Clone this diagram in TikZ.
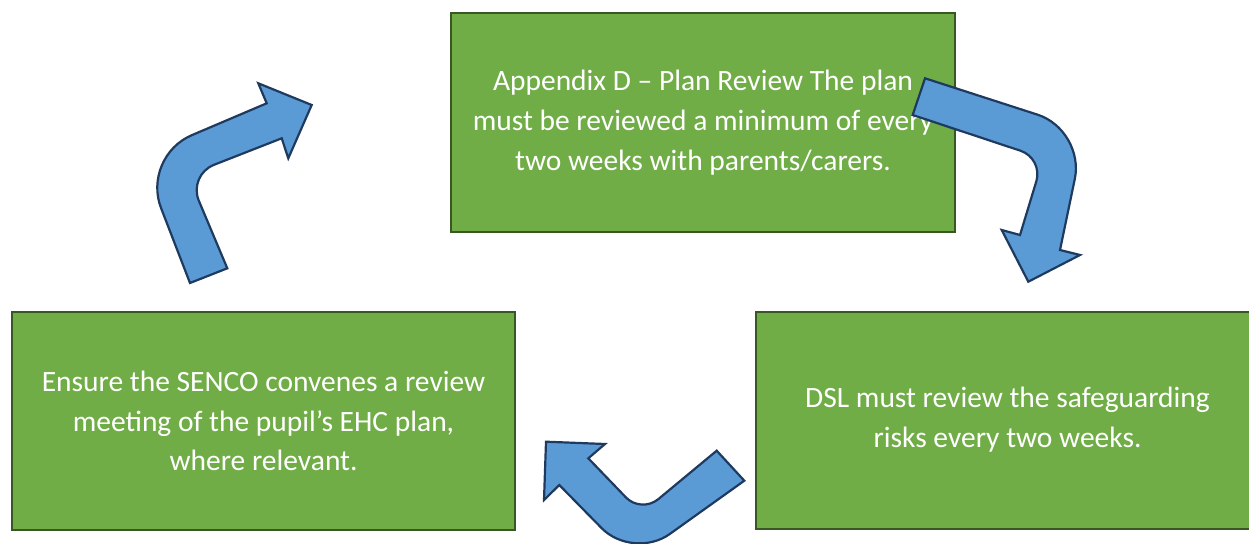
\documentclass[tikz,border=0pt]{standalone}
\usepackage{fontspec}
\setmainfont{Carlito}
\definecolor{boxgreen}{HTML}{70AD47}
\definecolor{boxedge}{HTML}{385723}
\definecolor{arrowblue}{HTML}{5B9BD5}
\definecolor{arrowedge}{HTML}{1F3A5F}
\begin{document}
\begin{tikzpicture}[x=1pt,y=-1pt,
  stepbox/.style={draw=boxedge,line width=2pt,fill=boxgreen,text=white,align=center,
    font=\fontsize{29.5}{39.8}\selectfont,inner sep=0pt},
  bentarrow/.style={draw=arrowedge,line width=2.2pt,fill=arrowblue,line join=miter}]
\useasboundingbox (0,0) rectangle (1249,543);
\node[stepbox,minimum width=504pt,minimum height=219pt] (top) at (703,122.5)
  {Appendix D – Plan Review The plan\\must be reviewed a minimum of every\\two weeks with parents/carers.};
\node[stepbox,minimum width=503pt,minimum height=218pt] (left) at (263.5,421)
  {Ensure the SENCO convenes a review\\meeting of the pupil’s EHC plan,\\where relevant.};
\node[stepbox,minimum width=503pt,minimum height=217pt] (right) at (1007.5,420)
  {DSL must review the safeguarding\\risks every two weeks.};
% arrow top-left (up-right)
\draw[bentarrow] (190,283) [rounded corners=55pt] -- (141.2,156.7) [sharp corners] -- (266.7,103.3)
  -- (258.3,83.3) -- (311.7,105) -- (288.3,158.3) -- (281.7,138.3)
  [rounded corners=28pt] -- (188,175) [sharp corners] -- (227.3,268.3) -- cycle;
% arrow top-right (down)
\draw[bentarrow] (925,78.3) [rounded corners=50pt] -- (1085,130) [sharp corners] -- (1060,250)
  -- (1080,255) -- (1028.3,281.7) -- (1001.7,230) -- (1020,235)
  [rounded corners=24pt] -- (1043.3,158.3) [sharp corners] -- (912.7,115) -- cycle;
% arrow bottom (up-left)
\draw[bentarrow] (716.7,450.7) [rounded corners=22pt] -- (641.2,513.3) [sharp corners] -- (588.3,458.3)
  -- (605,444) -- (546,441.7) -- (544,500) -- (559.3,485)
  [rounded corners=45pt] -- (633.1,560.2) [sharp corners] -- (744.3,480.7) -- cycle;
\end{tikzpicture}
\end{document}
